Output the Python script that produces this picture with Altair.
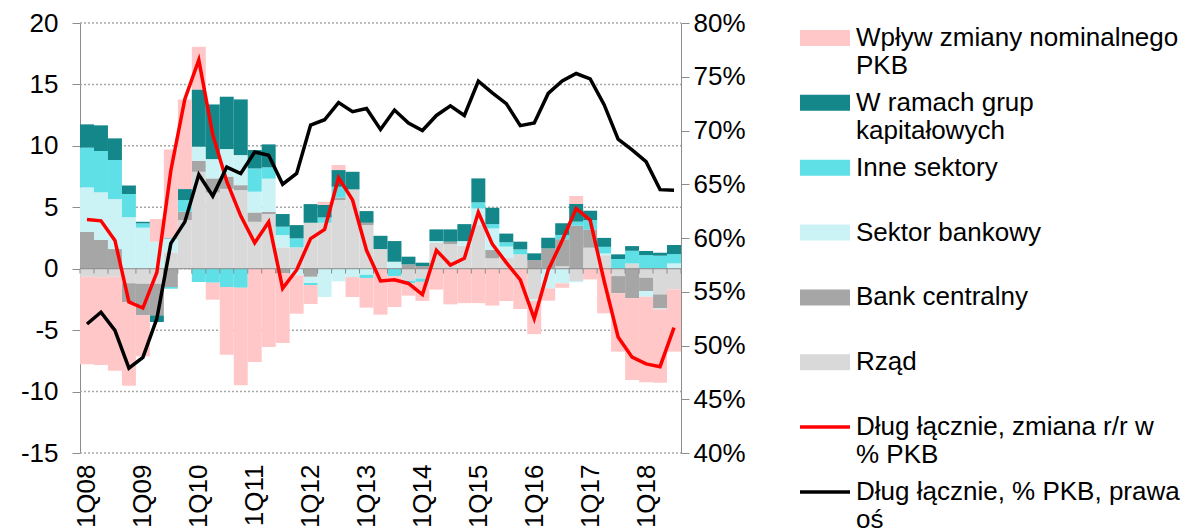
import altair as alt
import pandas as pd

# Quarter labels (1Q08 .. 3Q18)
quarters = ["1Q08", "2Q08", "3Q08", "4Q08", "1Q09", "2Q09", "3Q09", "4Q09",
            "1Q10", "2Q10", "3Q10", "4Q10", "1Q11", "2Q11", "3Q11", "4Q11",
            "1Q12", "2Q12", "3Q12", "4Q12", "1Q13", "2Q13", "3Q13", "4Q13",
            "1Q14", "2Q14", "3Q14", "4Q14", "1Q15", "2Q15", "3Q15", "4Q15",
            "1Q16", "2Q16", "3Q16", "4Q16", "1Q17", "2Q17", "3Q17", "4Q17",
            "1Q18", "2Q18", "3Q18"]

# Contributions to the y/y change of total debt, % of GDP
rzad = [-0.65, -0.70, -0.65, -1.19, -1.22, -1.22, 1.33, 3.96, 7.89, 6.20, 6.50, 6.40, 3.82, 4.45, 1.74, 1.74,
        3.74, 3.74, 5.59, 6.46, 3.55, 1.60, 0.00, -0.98, -0.80, 2.10, 2.00, 1.87, 3.60, 0.84, 0.90, 1.17,
        -2.50, 0.00, 0.20, -1.00, 1.71, 1.10, -0.60, 0.43, -0.73, -2.09, -1.68]
bank_centralny = [2.99, 2.34, 1.60, -1.55, -2.58, -2.58, -1.49, 0.68, 0.90, 1.15, 1.00, 0.40, 0.76, 0.19, -0.35, 0.00,
                  -0.66, 0.00, 0.21, 0.00, 0.19, 0.00, 0.00, 0.35, 0.22, 0.00, 0.20, 0.00, 0.00, 0.68, 0.00, 0.00,
                  0.70, 1.65, 2.20, 3.50, 1.49, 0.00, -1.40, -2.41, -1.09, -1.14, 0.00]
sektor_bankowy = [3.63, 3.88, 4.07, 4.18, 3.34, 2.20, 1.14, 0.00, 1.14, 1.57, 2.24, 2.45, 1.69, 2.69, 1.00, -0.54,
                  -0.50, -2.30, -1.03, -0.68, -0.49, 0.00, 0.57, 0.00, 0.00, 0.15, 0.00, 0.38, 1.30, 1.76, 0.90, 0.00,
                  -0.13, -1.60, -1.19, -0.10, 0.00, 0.14, 0.00, 0.00, -0.46, -0.07, 0.43]
inne_sektory = [3.23, 3.36, 3.18, 1.90, 0.35, 0.00, -0.14, 0.95, -1.08, -1.14, -1.49, -1.55, 1.89, 0.92, 0.68, 0.73,
                -0.17, 0.43, 0.87, 0.00, -0.27, 0.00, -0.60, -0.21, -0.27, 0.00, 0.00, 0.00, 0.50, 0.35, 0.35, 0.40,
                0.00, 0.00, 0.35, 0.33, 0.76, 0.54, 0.79, 1.03, 1.11, 1.06, 0.76]
w_ramach_grup = [1.90, 2.09, 1.76, 0.70, 0.13, -0.54, 0.05, 0.89, 4.66, 4.45, 4.26, 4.53, 1.50, 1.87, 1.03, 1.08,
                 1.52, 1.03, 1.36, 1.43, 0.95, 1.08, 1.68, 0.63, 0.27, 0.95, 1.00, 1.38, 1.95, 1.33, 0.71, 0.63,
                 0.55, 0.87, 0.95, 1.44, 0.76, 0.73, 0.38, 0.38, 0.33, 0.24, 0.74]
wplyw_pkb = [-7.13, -7.14, -7.65, -6.78, -3.33, 1.84, 7.19, 7.30, 3.47, -1.38, -5.51, -7.94, -7.60, -6.37, -5.70, -3.12,
             -1.54, 0.25, 0.41, -1.62, -2.41, -3.74, -2.52, -1.00, -1.55, -1.70, -2.90, -2.80, -2.80, -3.00, -2.63, -3.28,
             -2.69, -1.00, -0.36, 0.65, -0.87, -3.63, -4.75, -6.65, -6.97, -5.98, -5.07]

# Total debt: y/y change (% of GDP, left axis) and level (% of GDP, right axis)
dlug_zmiana = [4.0, 3.9, 2.3, -2.7, -3.2, -0.3, 8.0, 13.8, 17.0, 10.9, 7.1, 4.3, 2.1, 3.8, -1.6, -0.1,
               2.45, 3.2, 7.4, 5.6, 1.5, -1.0, -0.9, -1.2, -2.1, 1.5, 0.3, 0.85, 4.6, 2.0, 0.5, -0.9,
               -4.05, -0.1, 2.3, 4.9, 3.95, -1.0, -5.55, -7.2, -7.75, -7.97, -4.8]
dlug_poziom = [52.0, 53.1, 51.4, 47.9, 48.9, 52.5, 59.5, 61.5, 65.9, 63.9, 66.6, 66.0, 68.0, 67.7, 65.0, 66.0,
               70.5, 71.0, 72.6, 71.75, 72.05, 70.1, 71.9, 70.7, 70.0, 71.4, 72.3, 71.4, 74.6, 73.5, 72.5, 70.45,
               70.7, 73.45, 74.6, 75.3, 74.8, 72.4, 69.2, 68.2, 67.1, 64.5, 64.45]

left_ticks = [-15, -10, -5, 0, 5, 10, 15, 20]
right_ticks = [40, 45, 50, 55, 60, 65, 70, 75, 80]

series_names = ["Rząd", "Bank centralny", "Sektor bankowy", "Inne sektory",
                "W ramach grup kapitałowych", "Wpływ zmiany nominalnego PKB"]
series_values = [rzad, bank_centralny, sektor_bankowy, inne_sektory, w_ramach_grup, wplyw_pkb]
series_colors = ["#D9D9D9", "#A6A6A6", "#CBF3F6", "#5FDFE6", "#13878A", "#FFC7C7"]

FONT = "Liberation Sans"
FS = 26
AXIS_GRAY = "#8C8C8C"

n = len(quarters)
bar_rows = []
for k, (name, vals) in enumerate(zip(series_names, series_values)):
    for i, v in enumerate(vals):
        bar_rows.append({"idx": i, "lo": i - 0.5, "hi": i + 0.5, "seria": name, "ord": k, "val": v})
bars_df = pd.DataFrame(bar_rows)

lines_df = pd.DataFrame({"idx": list(range(n)), "zmiana": dlug_zmiana, "poziom": dlug_poziom})
# category boundaries for the tick marks on the zero line
bounds_df = pd.DataFrame({"b": [i - 0.5 for i in range(n + 1)], "z": 0.0, "zt": -0.4})
zero_df = pd.DataFrame({"b0": [-0.5], "b1": [n - 0.5], "z": [0.0]})
grid_df = pd.DataFrame({"g": left_ticks, "b0": -0.5, "b1": n - 0.5})

x_scale = alt.Scale(domain=[-0.5, n - 0.5], nice=False, zero=False)
y_left = alt.Scale(domain=[-15, 20], nice=False, zero=False)
y_right = alt.Scale(domain=[40, 80], nice=False, zero=False)

label_js = "[" + ",".join("'%s'" % q for q in quarters) + "]"
x_axis = alt.Axis(values=list(range(0, n, 4)), labelExpr=label_js + "[round(datum.value)]",
                  labelAngle=270, labelFontSize=FS, labelFont=FONT, labelColor="#000",
                  labelPadding=11, ticks=False, domain=False, grid=False, title=None,
                  labelOverlap=False)

left_axis = alt.Axis(values=left_ticks, labelExpr="'' + datum.value", grid=False,
                     domainColor=AXIS_GRAY, tickColor=AXIS_GRAY, tickSize=8,
                     labelPadding=14, labelFontSize=FS, labelFont=FONT, labelColor="#000", title=None)

right_axis = alt.Axis(orient="right", values=right_ticks, labelExpr="datum.value + '%'",
                      grid=False, domainColor=AXIS_GRAY, tickColor=AXIS_GRAY, tickSize=8,
                      labelPadding=4, labelFontSize=FS, labelFont=FONT, labelColor="#000", title=None)

# Dotted horizontal gridlines at the left-axis ticks
grid = alt.Chart(grid_df).mark_rule(color="#A6A6A6", strokeWidth=1.5, strokeDash=[2, 2]).encode(
    x=alt.X("b0:Q", scale=x_scale, axis=x_axis), x2="b1:Q",
    y=alt.Y("g:Q", scale=y_left, axis=left_axis),
)

# Stacked columns: positive and negative contributions stack away from zero separately
bars = alt.Chart(bars_df).transform_stack(
    stack="val", groupby=["idx"], as_=["v0", "v1"],
    sort=[alt.SortField("ord", order="ascending")], offset="zero",
).mark_rect().encode(
    x=alt.X("lo:Q", scale=x_scale, axis=x_axis),
    x2="hi:Q",
    y=alt.Y("v0:Q", scale=y_left, axis=left_axis),
    y2="v1:Q",
    color=alt.Color("seria:N", scale=alt.Scale(domain=series_names, range=series_colors), legend=None),
)

zero_line = alt.Chart(zero_df).mark_rule(color=AXIS_GRAY, strokeWidth=1).encode(
    x=alt.X("b0:Q", scale=x_scale, axis=x_axis), x2="b1:Q",
    y=alt.Y("z:Q", scale=y_left, axis=left_axis),
)
zero_ticks = alt.Chart(bounds_df).mark_rule(color=AXIS_GRAY, strokeWidth=1).encode(
    x=alt.X("b:Q", scale=x_scale, axis=x_axis),
    y=alt.Y("z:Q", scale=y_left, axis=left_axis), y2="zt:Q",
)

red_line = alt.Chart(lines_df).mark_line(color="#FF0000", strokeWidth=3.5).encode(
    x=alt.X("idx:Q", scale=x_scale, axis=x_axis),
    y=alt.Y("zmiana:Q", scale=y_left, axis=left_axis),
)

left_layer = alt.layer(grid, bars, zero_line, zero_ticks, red_line)

black_line = alt.Chart(lines_df).mark_line(color="#000000", strokeWidth=3.5).encode(
    x=alt.X("idx:Q", scale=x_scale, axis=x_axis),
    y=alt.Y("poziom:Q", scale=y_right, axis=right_axis),
)

# Legend drawn in pixel space to the right of the plot
legend_items = [
    (["Wpływ zmiany nominalnego", "PKB"], "rect", "#FFC7C7"),
    (["W ramach grup", "kapitałowych"], "rect", "#13878A"),
    (["Inne sektory"], "rect", "#5FDFE6"),
    (["Sektor bankowy"], "rect", "#CBF3F6"),
    (["Bank centralny"], "rect", "#A6A6A6"),
    (["Rząd"], "rect", "#D9D9D9"),
    (["Dług łącznie, zmiana r/r w", "% PKB"], "line", "#FF0000"),
    (["Dług łącznie, % PKB, prawa", "oś"], "line", "#000000"),
]
LEG_X0, LEG_X1, LEG_TX = 720, 770, 776
LEG_Y0, LEG_STEP, LINE_H = 15, 64.85, 28

rect_rows, line_rows, text_rows = [], [], []
for k, (lines, kind, col) in enumerate(legend_items):
    cy = LEG_Y0 + LEG_STEP * k
    if kind == "rect":
        rect_rows.append({"x": LEG_X0, "x2": LEG_X1, "y": cy - 8, "y2": cy + 8, "col": col})
    else:
        line_rows.append({"x": LEG_X0, "x2": LEG_X1, "y": cy, "col": col})
    for j, t in enumerate(lines):
        text_rows.append({"x": LEG_TX, "y": cy + LINE_H * j, "t": t})

leg_rects = alt.Chart(pd.DataFrame(rect_rows)).mark_rect().encode(
    x=alt.X("x:Q", scale=None), x2="x2:Q",
    y=alt.Y("y:Q", scale=None), y2="y2:Q",
    color=alt.Color("col:N", scale=None),
)
leg_lines = alt.Chart(pd.DataFrame(line_rows)).mark_rule(strokeWidth=3.5).encode(
    x=alt.X("x:Q", scale=None), x2="x2:Q",
    y=alt.Y("y:Q", scale=None),
    color=alt.Color("col:N", scale=None),
)
leg_text = alt.Chart(pd.DataFrame(text_rows)).mark_text(
    align="left", baseline="middle", font=FONT, fontSize=FS, color="#000"
).encode(
    x=alt.X("x:Q", scale=None),
    y=alt.Y("y:Q", scale=None),
    text="t:N",
)

chart = alt.layer(left_layer, black_line, leg_rects, leg_lines, leg_text).resolve_scale(
    y="independent"
).properties(
    width=601, height=430,
    padding={"left": 80, "top": 23, "right": 510, "bottom": 79},
    autosize="none",
    background="white",
).configure_view(stroke=None)

chart.save("out.html", embed_options={"renderer": "svg", "actions": False})
